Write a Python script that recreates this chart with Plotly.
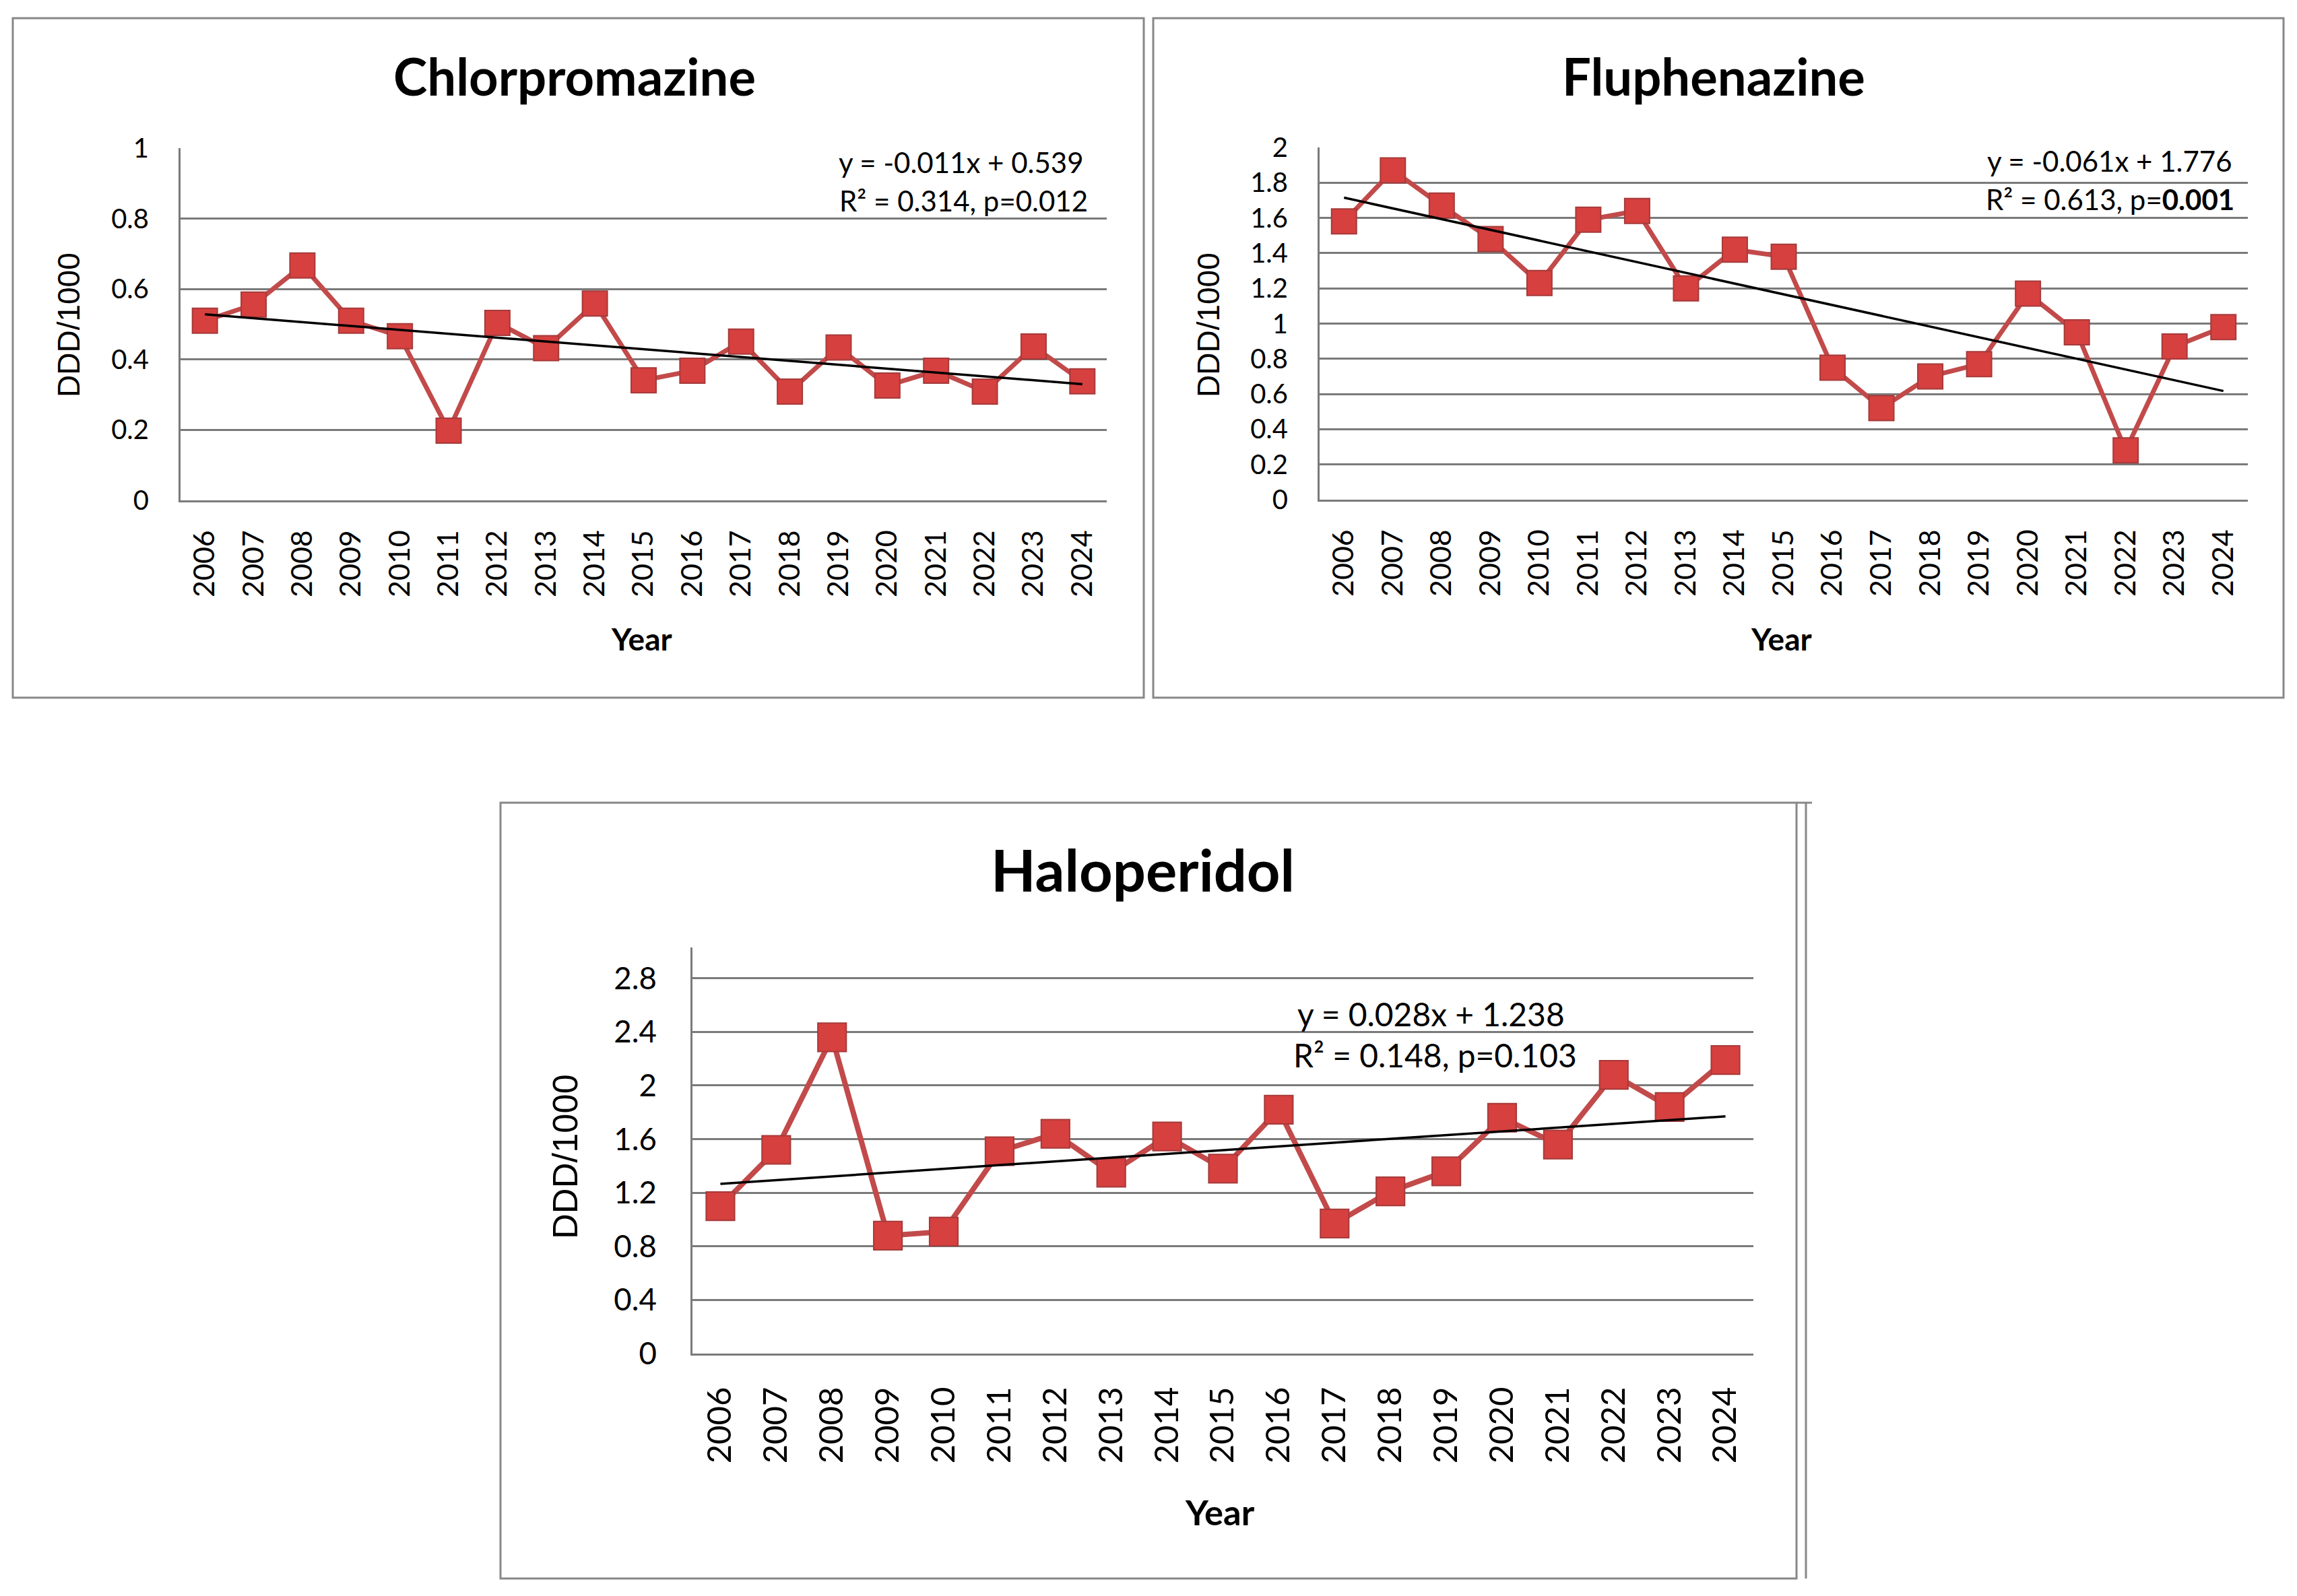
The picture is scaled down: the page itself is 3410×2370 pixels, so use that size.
import plotly.graph_objects as go

W, H = 3410, 2370

years = ['2006', '2007', '2008', '2009', '2010', '2011', '2012', '2013', '2014', '2015',
         '2016', '2017', '2018', '2019', '2020', '2021', '2022', '2023', '2024']

chlorpromazine = [0.51, 0.556, 0.667, 0.51, 0.466, 0.198, 0.504, 0.432, 0.559, 0.341,
                  0.368, 0.451, 0.309, 0.434, 0.326, 0.368, 0.309, 0.437, 0.338]
fluphenazine = [1.58, 1.87, 1.67, 1.48, 1.23, 1.59, 1.64, 1.20, 1.42, 1.38,
                0.75, 0.52, 0.70, 0.77, 1.17, 0.95, 0.28, 0.87, 0.98]
haloperidol = [1.10, 1.52, 2.36, 0.88, 0.91, 1.51, 1.64, 1.35, 1.62, 1.38,
               1.82, 0.97, 1.21, 1.36, 1.76, 1.56, 2.08, 1.84, 2.19]

titles = ['Chlorpromazine', 'Fluphenazine', 'Haloperidol']
trend_slopes = [-0.011, -0.061, 0.028]
trend_intercepts = [0.539, 1.776, 1.238]
eq_line1 = ['y = -0.011x + 0.539', 'y = -0.061x + 1.776', 'y = 0.028x + 1.238']
eq_line2 = ['R² = 0.314, p=0.012', 'R² = 0.613, p=<b>0.001</b>', 'R² = 0.148, p=0.103']

yticks_1 = [0, 0.2, 0.4, 0.6, 0.8, 1]
yticks_2 = [0, 0.2, 0.4, 0.6, 0.8, 1, 1.2, 1.4, 1.6, 1.8, 2]
yticks_3 = [0, 0.4, 0.8, 1.2, 1.6, 2, 2.4, 2.8]
ytext_1 = ['0', '0.2', '0.4', '0.6', '0.8', '1']
ytext_2 = ['0', '0.2', '0.4', '0.6', '0.8', '1', '1.2', '1.4', '1.6', '1.8', '2']
ytext_3 = ['0', '0.4', '0.8', '1.2', '1.6', '2', '2.4', '2.8']

FONT = 'Lato'
GRID = '#7a7a7a'
BORDER = '#888888'
LINE_RED = '#C24A4A'
MARK_RED = '#D6403F'
MARK_EDGE = '#A63A3A'


def px(x):
    return x / W


def py(y):
    return 1 - y / H


# panel geometry in pixels (plot-area left, right, top(of axis), bottom)
panels = [
    dict(x0=268, x1=1643, top=220, bottom=743, yr=[0, 1], tv=yticks_1, tt=ytext_1,
         data=chlorpromazine, s=1.0,
         title=(853, 113), ylab=(102, 483), xlab=(952, 948),
         eq1=(1427, 241), eq2=(1430, 298)),
    dict(x0=1959, x1=3337, top=219, bottom=742, yr=[0, 2], tv=yticks_2, tt=ytext_2,
         data=fluphenazine, s=1.0,
         title=(2544, 113), ylab=(1794, 483), xlab=(2644, 948),
         eq1=(3132, 239), eq2=(3132, 296)),
    dict(x0=1028, x1=2603, top=1407, bottom=2010, yr=[0, 3.03], tv=yticks_3, tt=ytext_3,
         data=haloperidol, s=1.14,
         title=(1696, 1290), ylab=(839, 1718), xlab=(1811, 2244),
         eq1=(2124, 1505), eq2=(2130, 1566)),
]

fig = go.Figure()
annotations = []
layout_axes = {}

for i, p in enumerate(panels):
    n = i + 1
    xa = 'x' if n == 1 else f'x{n}'
    ya = 'y' if n == 1 else f'y{n}'
    s = p['s']
    fig.add_trace(go.Scatter(
        x=years, y=p['data'], xaxis=xa, yaxis=ya, mode='lines+markers',
        line=dict(color=LINE_RED, width=7 * s),
        marker=dict(symbol='square', size=37 * s, color=MARK_RED,
                    line=dict(color=MARK_EDGE, width=2)),
        showlegend=False, hoverinfo='skip'))
    m, b = trend_slopes[i], trend_intercepts[i]
    fig.add_trace(go.Scatter(
        x=[years[0], years[-1]], y=[m * 1 + b, m * len(years) + b],
        xaxis=xa, yaxis=ya, mode='lines', line=dict(color='black', width=3.5),
        showlegend=False, hoverinfo='skip'))

    xkey = 'xaxis' if n == 1 else f'xaxis{n}'
    ykey = 'yaxis' if n == 1 else f'yaxis{n}'
    layout_axes[xkey] = dict(
        domain=[px(p['x0']), px(p['x1'])], anchor=ya, type='category',
        range=[-0.5, len(years) - 0.5], showgrid=False, zeroline=False,
        showline=True, linecolor=GRID, linewidth=3, ticks='', automargin=False,
        tickangle=-90, tickfont=dict(family=FONT, size=43 * s, color='black'),
        ticklabelstandoff=int(24 * s))
    layout_axes[ykey] = dict(
        domain=[py(p['bottom']), py(p['top'])], anchor=xa, range=p['yr'],
        tickvals=p['tv'], ticktext=p['tt'], showgrid=True, gridcolor=GRID,
        gridwidth=3, zeroline=False, showline=True, linecolor=GRID, linewidth=3,
        ticks='', automargin=False,
        tickfont=dict(family=FONT, size=40 * s, color='black'),
        ticklabelstandoff=int(36 * s))

    annotations.append(dict(
        x=px(p['title'][0]), y=py(p['title'][1]), xref='paper', yref='paper',
        text=f'<b>{titles[i]}</b>', showarrow=False, xanchor='center', yanchor='middle',
        font=dict(family=FONT, size=76 * s, color='black')))
    annotations.append(dict(
        x=px(p['ylab'][0]), y=py(p['ylab'][1]), xref='paper', yref='paper',
        text='DDD/1000', textangle=-90, showarrow=False, xanchor='center', yanchor='middle',
        font=dict(family='Liberation Sans', size=46 * s, color='black')))
    annotations.append(dict(
        x=px(p['xlab'][0]), y=py(p['xlab'][1]), xref='paper', yref='paper',
        text='<b>Year</b>', showarrow=False, xanchor='center', yanchor='middle',
        font=dict(family=FONT, size=46 * s, color='black')))
    annotations.append(dict(
        x=px(p['eq1'][0]), y=py(p['eq1'][1]), xref='paper', yref='paper',
        text=eq_line1[i], showarrow=False, xanchor='center', yanchor='middle',
        font=dict(family=FONT, size=42 * s, color='black')))
    annotations.append(dict(
        x=px(p['eq2'][0]), y=py(p['eq2'][1]), xref='paper', yref='paper',
        text=eq_line2[i], showarrow=False, xanchor='center', yanchor='middle',
        font=dict(family=FONT, size=42 * s, color='black')))

shapes = []
for (x0, y0, x1, y1) in [(19, 27, 1698, 1036), (1712, 27, 3390, 1036), (743, 1192, 2667, 2344)]:
    shapes.append(dict(type='rect', xref='paper', yref='paper',
                       x0=px(x0), x1=px(x1), y0=py(y1), y1=py(y0),
                       line=dict(color=BORDER, width=3), fillcolor='rgba(0,0,0,0)'))
shapes.append(dict(type='line', xref='paper', yref='paper', x0=px(2667), x1=px(2690),
                   y0=py(1192), y1=py(1192), line=dict(color=BORDER, width=3)))
shapes.append(dict(type='line', xref='paper', yref='paper', x0=px(2681), x1=px(2681),
                   y0=py(1192), y1=py(2344), line=dict(color=BORDER, width=3)))

fig.update_layout(
    width=W, height=H, autosize=False,
    margin=dict(l=0, r=0, t=0, b=0, pad=0, autoexpand=False),
    showlegend=False,
    paper_bgcolor='white', plot_bgcolor='white',
    annotations=annotations, shapes=shapes,
    **layout_axes)

fig.write_html('out.html')
